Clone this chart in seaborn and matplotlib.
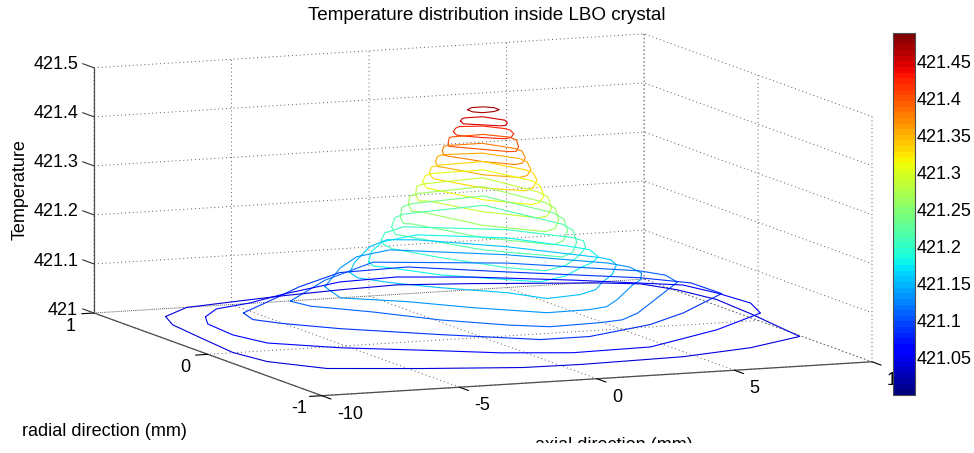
import numpy as np
import seaborn as sns
import matplotlib
matplotlib.use("Agg")
import matplotlib.pyplot as plt
from matplotlib.colors import Normalize
from matplotlib.cm import ScalarMappable
from matplotlib.patches import Rectangle
from matplotlib.transforms import ScaledTranslation
from mpl_toolkits.mplot3d import proj3d

# contour levels, top of the peak first
levels = [421.470, 421.447, 421.425, 421.402, 421.380, 421.357, 421.334,
          421.312, 421.289, 421.267, 421.244, 421.221, 421.199, 421.176,
          421.154, 421.131, 421.108, 421.086, 421.063, 421.041]

# contour loops, one list per level
ring_x = [
    [-0.73, -0.41, 0.02, 0.28, 0.26, -0.06, -0.50, -0.75],
    [-0.94, -0.67, -0.50, 0.11, 0.43, 0.51, 0.35, 0.06, -0.13, -0.57, -1.01, -1.09],
    [-1.16, -0.79, -0.52, 0.24, 0.71, 0.74, 0.54, 0.15, -0.14, -0.74, -1.28, -1.34],
    [-1.22, -0.81, -0.61, 0.50, 1.09, 1.05, 0.55, 0.09, -0.15, -0.78, -1.47, -1.58],
    [-1.23, -0.80, -0.58, 0.64, 1.21, 1.21, 0.75, 0.19, -0.15, -0.90, -1.49, -1.59],
    [-1.44, -0.91, -0.59, 0.77, 1.46, 1.40, 0.87, 0.24, -0.17, -1.06, -1.64, -1.77],
    [-1.62, -1.04, -0.67, 1.03, 1.65, 1.62, 1.13, 0.38, -0.15, -1.23, -1.88, -1.98],
    [-1.66, -1.06, -0.67, 1.25, 1.84, 1.62, 0.93, 0.25, -0.21, -1.31, -1.97, -2.05],
    [-2.04, -1.25, -0.79, 1.52, 2.03, 1.91, 1.08, 0.28, -0.19, -1.39, -2.16, -2.45],
    [-2.17, -1.38, -0.92, 1.70, 2.26, 2.09, 1.22, 0.34, -0.22, -1.63, -2.39, -2.63],
    [-2.51, -1.62, -1.05, 1.87, 2.60, 2.40, 1.50, 0.52, -0.14, -1.72, -2.72, -2.97],
    [-2.66, -1.75, -1.17, 2.05, 2.88, 2.69, 1.79, 0.77, 0.07, -1.80, -3.02, -3.19],
    [-3.16, -2.44, -1.36, 1.61, 2.98, 3.03, 2.53, 1.51, 0.34, -0.71, -1.63, -2.86, -3.59, -3.49],
    [-4.49, -3.52, -2.33, -0.67, 1.88, 3.16, 3.43, 3.08, 2.38, 1.76, 0.43, -0.85, -1.71, -3.36, -4.46, -4.69],
    [-5.05, -4.05, -2.21, -1.09, -0.16, 2.05, 4.00, 4.14, 3.90, 2.91, 2.04, 1.11, 0.22, -1.15, -1.88, -3.54, -4.67, -5.26],
    [-6.08, -3.99, -2.52, -0.90, 2.31, 4.74, 5.08, 4.94, 4.32, 3.67, 1.89, 0.98, 0.19, -1.40, -3.28, -4.81, -6.55],
    [-7.42, -4.54, -1.51, 2.58, 6.03, 6.46, 6.24, 4.86, 2.35, 1.29, 0.34, -1.55, -2.72, -4.37, -5.78, -7.22],
    [-8.96, -7.41, -4.97, -2.52, 0.07, 2.75, 6.38, 7.51, 7.56, 4.72, 2.68, -0.22, -2.02, -4.70, -7.30, -8.65, -9.24],
    [-9.51, -8.49, -6.94, -5.14, -2.35, -0.15, 2.21, 5.06, 8.05, 8.43, 8.61, 8.06, 5.27, 1.74, -1.17, -3.44, -5.13, -7.99, -9.83, -10.21, -10.05],
    [-9.80, -8.38, -6.44, -4.37, -2.09, 0.11, 2.56, 6.59, 7.76, 8.39, 8.78, 8.62, 8.20, 5.71, 2.85, -0.94, -3.06, -6.34, -9.24, -10.50, -10.79, -10.53, -10.29],
]
ring_y = [
    [-0.04, 0.00, 0.00, -0.03, -0.08, -0.11, -0.12, -0.09],
    [-0.03, 0.02, 0.03, 0.03, -0.05, -0.07, -0.13, -0.18, -0.18, -0.14, -0.10, -0.09],
    [-0.02, 0.05, 0.08, 0.06, -0.02, -0.06, -0.14, -0.21, -0.23, -0.18, -0.11, -0.09],
    [0.01, 0.10, 0.11, 0.12, 0.03, -0.04, -0.18, -0.27, -0.27, -0.19, -0.10, -0.08],
    [0.06, 0.15, 0.16, 0.16, 0.01, -0.05, -0.19, -0.30, -0.32, -0.22, -0.07, -0.04],
    [0.07, 0.18, 0.21, 0.19, 0.03, -0.05, -0.21, -0.33, -0.36, -0.26, -0.06, -0.03],
    [0.08, 0.20, 0.23, 0.25, 0.02, -0.05, -0.20, -0.35, -0.41, -0.30, -0.08, -0.04],
    [0.13, 0.25, 0.29, 0.30, 0.01, -0.11, -0.31, -0.44, -0.48, -0.32, -0.05, 0.00],
    [0.10, 0.28, 0.32, 0.37, 0.01, -0.11, -0.34, -0.50, -0.53, -0.33, -0.04, -0.03],
    [0.13, 0.31, 0.35, 0.41, 0.00, -0.13, -0.37, -0.55, -0.60, -0.39, -0.03, -0.01],
    [0.12, 0.32, 0.38, 0.45, 0.01, -0.13, -0.38, -0.58, -0.65, -0.41, -0.04, -0.02],
    [0.16, 0.35, 0.41, 0.49, 0.00, -0.14, -0.39, -0.60, -0.68, -0.43, -0.05, 0.00],
    [0.13, 0.27, 0.37, 0.18, -0.07, -0.15, -0.29, -0.47, -0.64, -0.72, -0.61, -0.31, -0.07, 0.03],
    [-0.08, 0.13, 0.32, 0.42, 0.24, -0.03, -0.11, -0.27, -0.38, -0.45, -0.62, -0.71, -0.62, -0.44, -0.20, -0.17],
    [-0.05, 0.15, 0.46, 0.58, 0.54, 0.28, -0.06, -0.12, -0.23, -0.43, -0.56, -0.72, -0.80, -0.84, -0.67, -0.48, -0.31, -0.17],
    [-0.08, 0.29, 0.50, 0.60, 0.35, 0.05, -0.06, -0.20, -0.34, -0.43, -0.72, -0.85, -0.89, -0.90, -0.70, -0.49, -0.33],
    [-0.10, 0.29, 0.60, 0.41, 0.08, -0.04, -0.20, -0.41, -0.79, -0.91, -0.94, -0.96, -0.87, -0.68, -0.43, -0.23],
    [-0.06, 0.12, 0.41, 0.65, 0.68, 0.45, 0.16, -0.01, -0.27, -0.62, -0.82, -0.99, -0.99, -0.76, -0.51, -0.33, -0.21],
    [0.14, 0.29, 0.37, 0.51, 0.69, 0.72, 0.62, 0.43, 0.19, -0.02, -0.27, -0.49, -0.78, -1.05, -1.07, -0.98, -0.86, -0.67, -0.48, -0.27, -0.01],
    [0.42, 0.58, 0.64, 0.70, 0.75, 0.78, 0.71, 0.56, 0.49, 0.32, 0.07, -0.27, -0.80, -0.97, -1.07, -1.10, -1.09, -0.98, -0.86, -0.64, -0.41, -0.06, 0.24],
]

x_ticks = [-10, -5, 0, 5, 10]
x_labels = ["-10", "-5", "0", "5", "10"]
y_ticks = [-1, 0, 1]
y_labels = ["-1", "0", "1"]
z_ticks = [421, 421.1, 421.2, 421.3, 421.4, 421.5]
z_labels = ["421", "421.1", "421.2", "421.3", "421.4", "421.5"]
cbar_ticks = [421.05, 421.1, 421.15, 421.2, 421.25, 421.3, 421.35, 421.4, 421.45]
cbar_labels = ["421.05", "421.1", "421.15", "421.2", "421.25", "421.3", "421.35", "421.4", "421.45"]
t_min, t_max = 421.0, 421.489

W, H = 974, 453

sns.set_theme(style="white")
plt.rcParams["font.family"] = ["Liberation Sans", "DejaVu Sans"]
plt.rcParams["text.color"] = "black"
plt.rcParams["axes.unicode_minus"] = False

jet = plt.get_cmap("jet", 64)
norm = Normalize(t_min, t_max)

fig = plt.figure(figsize=(W / 100, H / 100), dpi=100)
ax = fig.add_axes([0, 0, 1, 1], projection="3d", proj_type="ortho")
ax.patch.set_visible(False)
ax.view_init(elev=8.6, azim=-112.4)
ax.set_box_aspect((595, 598, 248))
ax.set_xlim(-10, 10, view_margin=0)
ax.set_ylim(-1, 1, view_margin=0)
ax.set_zlim(421, 421.5, view_margin=0)

for lev, xs, ys in zip(levels, ring_x, ring_y):
    ax.plot(xs + xs[:1], ys + ys[:1], [lev] * (len(xs) + 1),
            color=jet(norm(lev)), lw=0.8)

ax.set_xticks(x_ticks)
ax.set_xticklabels(x_labels, ha="left")
ax.set_yticks(y_ticks)
ax.set_yticklabels(y_labels)
ax.set_zticks(z_ticks)
ax.set_zticklabels(z_labels, ha="right")
ax.tick_params(labelsize=13, colors="black")
ax.tick_params(axis="x", pad=2)
ax.tick_params(axis="y", pad=3)
ax.tick_params(axis="z", pad=8)

for axis in (ax.xaxis, ax.yaxis, ax.zaxis):
    axis.set_pane_color((1, 1, 1, 0))
    axis.pane.set_edgecolor("0.35")
    axis.pane.set_linestyle((0, (1, 3)))
    axis.pane.set_linewidth(0.7)
    axis.line.set_color("0.3")
    axis.line.set_linewidth(0.9)
    axis._axinfo["grid"].update(color="0.35", linewidth=0.7, linestyle=(0, (1, 3)))
    # mplot3d draws these on the wrong side for this view, so use the inward part
    axis._axinfo["tick"].update(inward_factor=0.5, outward_factor=0.0, linewidth={True: 0.8, False: 0.5})

ax.yaxis._axinfo["tick"].update(inward_factor=0.28)

# z ticks in the original lean along the radial direction
ax.zaxis._axinfo["tick"].update(inward_factor=0.0, outward_factor=0.0)
for z in z_ticks:
    ax.plot([-10, -10], [1, 1.1], [z, z], color="0.2", lw=0.8)


def nudge(axis, dx, dy):
    # mplot3d resets the label transform on every draw, so hook the setter
    off = ScaledTranslation(dx / 100, dy / 100, fig.dpi_scale_trans)
    for t in axis.get_major_ticks():
        base = t.label1.set_transform
        t.label1.set_transform = lambda tr, base=base: base(tr + off)


nudge(ax.xaxis, 8, 0)
nudge(ax.yaxis, -4, 5)
nudge(ax.zaxis, 23, 9)


def corner(x, y, z):
    ax.apply_aspect()
    px, py, _ = proj3d.proj_transform(x, y, z, ax.get_proj())
    return ax.transData.transform((px, py))


# size and place the square 3d box so its corners land where the original has them
size = 600.0
ax.set_position([0, 0, size / W, size / H])
span = corner(10, -1, 421)[0] - corner(-10, 1, 421)[0]
size *= 778 / span
ax.set_position([0, 0, size / W, size / H])
p = corner(-10, 1, 421)
ax.set_position([(94 - p[0]) / W, (H - 313 - p[1]) / H, size / W, size / H])

cax = fig.add_axes([893 / W, (H - 395) / H, 22 / W, 362 / H])
cb = fig.colorbar(ScalarMappable(norm=norm, cmap=jet), cax=cax, drawedges=False)
cb.set_ticks(cbar_ticks)
cb.set_ticklabels(cbar_labels)
cax.tick_params(axis="y", direction="in", left=True, right=True, length=3, width=0.7,
                labelsize=13, pad=1, color="black", labelcolor="black")
cb.outline.set_edgecolor("0.3")
cb.outline.set_linewidth(0.8)

fig.text(487 / W, 1 - 15 / H, "Temperature distribution inside LBO crystal",
         fontsize=13.6, ha="center", va="center")
fig.text(20 / W, 1 - 190 / H, "Temperature", fontsize=13, rotation=90, ha="center", va="center")
fig.text(104 / W, 1 - 431 / H, "radial direction (mm)", fontsize=13, ha="center", va="center")
fig.text(614 / W, 1 - 445 / H, "axial direction (mm)", fontsize=13, ha="center", va="center")
# the original image cuts the lower axis label off
fig.add_artist(Rectangle((0, 0), 1, 10 / H, transform=fig.transFigure, fc="white", ec="none", zorder=5))

fig.savefig("out.png", dpi=100)
